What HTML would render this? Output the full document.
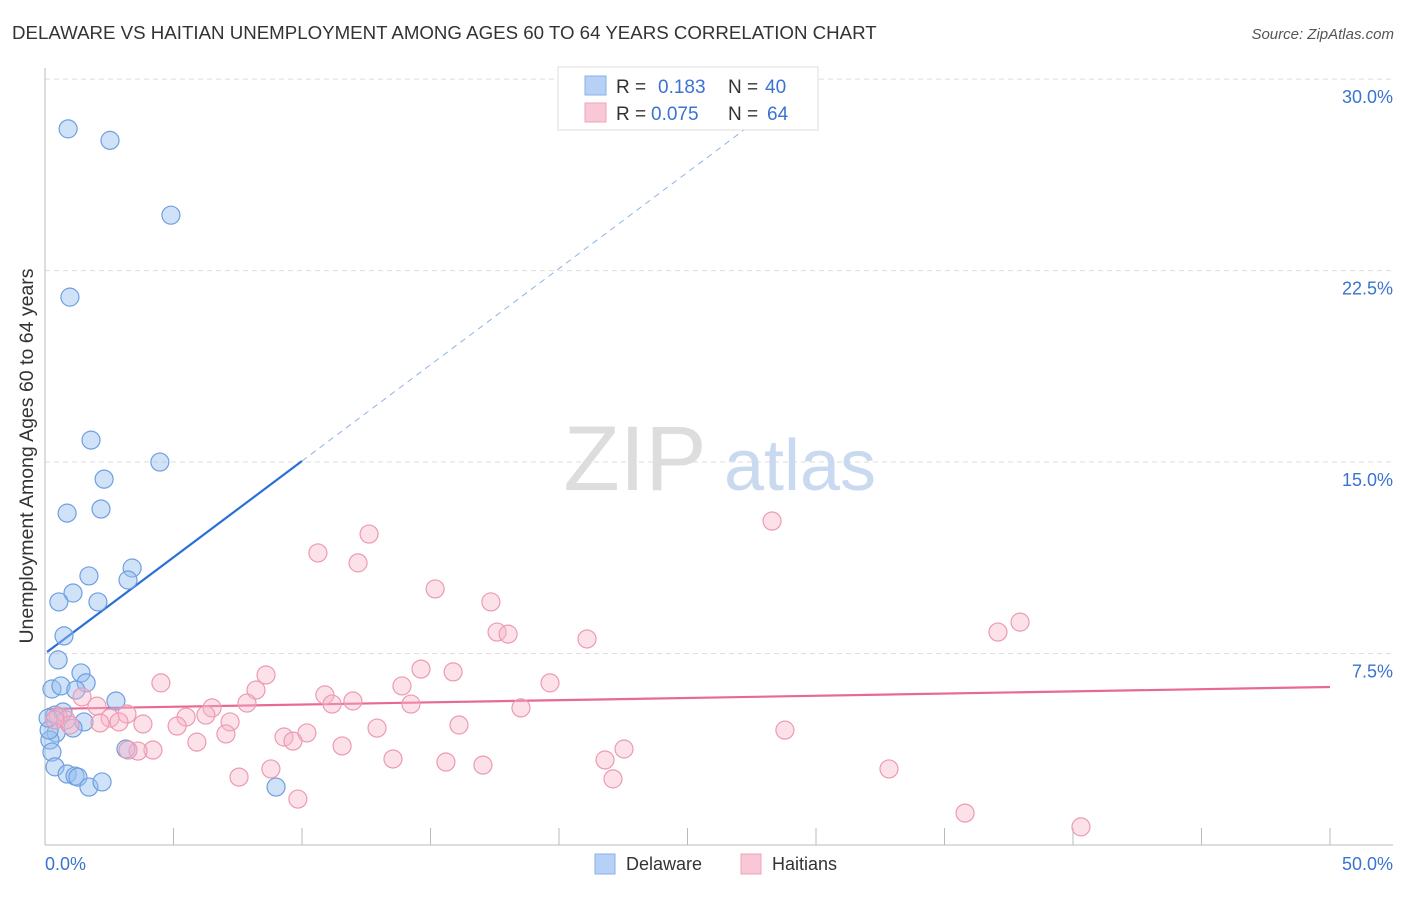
<!DOCTYPE html>
<html><head><meta charset="utf-8">
<style>
body{margin:0;background:#fff;font-family:"Liberation Sans",sans-serif;}
svg text{font-family:"Liberation Sans",sans-serif;}
</style></head>
<body>
<svg id="chart" width="1406" height="892" xmlns="http://www.w3.org/2000/svg">
<text x="12" y="39" font-size="18.7" fill="#333">DELAWARE VS HAITIAN UNEMPLOYMENT AMONG AGES 60 TO 64 YEARS CORRELATION CHART</text>
<text x="1394" y="39" font-size="15" fill="#555" font-style="italic" text-anchor="end">Source: ZipAtlas.com</text>
<text x="33" y="456" font-size="19.5" fill="#333" text-anchor="middle" transform="rotate(-90 33 456)">Unemployment Among Ages 60 to 64 years</text>
<g id="grid"></g>
<g id="watermark">
<text x="635" y="490" font-size="92" fill="#ddd" font-family="Liberation Serif" text-anchor="middle">ZIP</text>
<text x="800" y="490" font-size="72" fill="#c9d9ef" text-anchor="middle">atlas</text>
</g>
<g id="trends"></g>
<g id="points"></g>
<g>
<rect x="558" y="67" width="260" height="63" fill="#fff" stroke="#ddd"/>
<rect x="585" y="76" width="21" height="19" fill="#b6d1f5" stroke="#8ab0e6"/>
<rect x="585" y="103" width="21" height="19" fill="#f9c8d7" stroke="#eea3ba"/>
<text x="616" y="93" font-size="19" fill="#333">R =</text>
<text x="658" y="93" font-size="19" fill="#3a73d0">0.183</text>
<text x="728" y="93" font-size="19" fill="#333">N =</text>
<text x="765" y="93" font-size="19" fill="#3a73d0">40</text>
<text x="616" y="120" font-size="19" fill="#333">R =</text>
<text x="651" y="120" font-size="19" fill="#3a73d0">0.075</text>
<text x="728" y="120" font-size="19" fill="#333">N =</text>
<text x="767" y="120" font-size="19" fill="#3a73d0">64</text>
</g>
<g>
<rect x="595" y="854" width="20" height="20" fill="#b6d1f5" stroke="#8ab0e6"/>
<text x="626" y="870" font-size="18" fill="#333">Delaware</text>
<rect x="741" y="854" width="20" height="20" fill="#f9c8d7" stroke="#eea3ba"/>
<text x="772" y="870" font-size="18" fill="#333">Haitians</text>
</g>
</svg>
<script>
const xTickLabels=["0.0%","50.0%"];
const yTicks=[7.5,15,22.5,30];
const yTickLabels=["7.5%","15.0%","22.5%","30.0%"];
const delawareX=[0.9,2.53,4.9,0.97,1.79,4.47,2.3,0.86,2.18,3.39,1.71,3.23,1.09,0.54,2.06,0.74,0.51,1.4,0.27,1.6,0.62,2.76,1.2,0.39,0.7,1.52,1.09,0.43,0.19,0.16,0.27,0.39,0.86,1.17,1.28,1.71,2.22,3.15,8.99,0.12];
const delawareY=[28.05,27.6,24.67,21.46,15.86,15.0,14.33,13.0,13.16,10.85,10.54,10.38,9.87,9.52,9.52,8.19,7.25,6.74,6.11,6.35,6.23,5.64,6.07,5.09,5.21,4.82,4.58,4.39,4.11,4.5,3.64,3.06,2.78,2.7,2.66,2.27,2.47,3.76,2.27,4.97];
const haitianX=[28.29,12.61,10.62,12.18,15.18,17.35,17.59,18.02,21.09,37.94,37.08,8.6,4.51,14.63,15.88,19.65,13.89,8.21,10.89,11.98,11.17,7.86,6.5,14.24,1.44,2.02,3.19,5.49,6.26,2.53,2.88,3.81,5.14,7.2,18.52,16.11,12.92,0.51,0.82,0.97,7.04,5.91,9.3,9.65,10.19,11.56,4.2,3.62,22.53,28.79,21.79,15.6,13.54,17.04,8.79,7.55,22.1,32.84,9.84,35.8,40.31,0.39,2.14,3.23];
const haitianY=[12.69,12.18,11.44,11.05,10.03,9.52,8.34,8.26,8.07,8.73,8.34,6.66,6.35,6.89,6.78,6.35,6.23,6.07,5.88,5.64,5.52,5.56,5.37,5.52,5.8,5.44,5.13,5.01,5.09,4.97,4.82,4.74,4.66,4.82,5.37,4.7,4.58,5.05,4.9,4.7,4.35,4.03,4.23,4.07,4.39,3.88,3.72,3.68,3.76,4.5,3.33,3.25,3.37,3.13,2.98,2.66,2.59,2.98,1.8,1.25,0.71,4.9,4.78,3.72];
const delawareTrend=[7.5,0.754];
const haitianTrend=[5.33,0.0172];

const NS="http://www.w3.org/2000/svg";
const X=v=>45+v*25.7;
const Y=v=>845-v*25.53;
function mk(tag,attrs,parent){const e=document.createElementNS(NS,tag);for(const k in attrs)e.setAttribute(k,attrs[k]);parent.appendChild(e);return e;}
const grid=document.getElementById('grid');
yTicks.forEach((t,i)=>{
  const l=mk('line',{x1:45,x2:1393,y1:Y(t),y2:Y(t),stroke:'#ddd','stroke-dasharray':'5,4'},grid);
  
  
  const tx=mk('text',{x:1393,y:Y(t)+24,'font-size':18,fill:'#3a73d0','text-anchor':'end'},grid);
  tx.textContent=yTickLabels[i];
  
  
});
const ax=mk('line',{x1:45,x2:45,y1:68,y2:845,stroke:'#bbb'},grid);


const bx=mk('line',{x1:45,x2:1393,y1:845,y2:845,stroke:'#bbb'},grid);


for(let v=5;v<=50;v+=5){
  const t=mk('line',{x1:X(v),x2:X(v),y1:828,y2:845,stroke:'#bbb'},grid);
  
  
}
const xl0=mk('text',{x:45,y:870,'font-size':18,fill:'#3a73d0'},grid);xl0.textContent=xTickLabels[0];


const xl1=mk('text',{x:1393,y:870,'font-size':18,fill:'#3a73d0','text-anchor':'end'},grid);xl1.textContent=xTickLabels[1];



const pts=document.getElementById('points');
delawareX.forEach((x,i)=>{
  const c=mk('circle',{cx:X(x),cy:Y(delawareY[i]),r:9,fill:'rgba(150,190,240,0.45)',stroke:'#6e9fe0','stroke-width':1.2},pts);
  
  
});
haitianX.forEach((x,i)=>{
  const c=mk('circle',{cx:X(x),cy:Y(haitianY[i]),r:9,fill:'rgba(248,180,200,0.4)',stroke:'#ec9ab3','stroke-width':1.2},pts);
  
  
});
const tr=document.getElementById('trends');
const dEnd=(30-delawareTrend[0])/delawareTrend[1];
const d1=mk('line',{x1:X(0.08),y1:Y(delawareTrend[0]+delawareTrend[1]*0.08),x2:X(10),y2:Y(delawareTrend[0]+delawareTrend[1]*10),stroke:'#2a6fd6','stroke-width':2.2},tr);


const d2=mk('line',{x1:X(10),y1:Y(delawareTrend[0]+delawareTrend[1]*10),x2:X(dEnd),y2:Y(30),stroke:'#8fb2e8','stroke-width':1,'stroke-dasharray':'6,5'},tr);


const h1=mk('line',{x1:X(0.08),y1:Y(haitianTrend[0]),x2:X(50),y2:Y(haitianTrend[0]+haitianTrend[1]*50),stroke:'#e86a92','stroke-width':2.2},tr);


</script>
</body></html>
